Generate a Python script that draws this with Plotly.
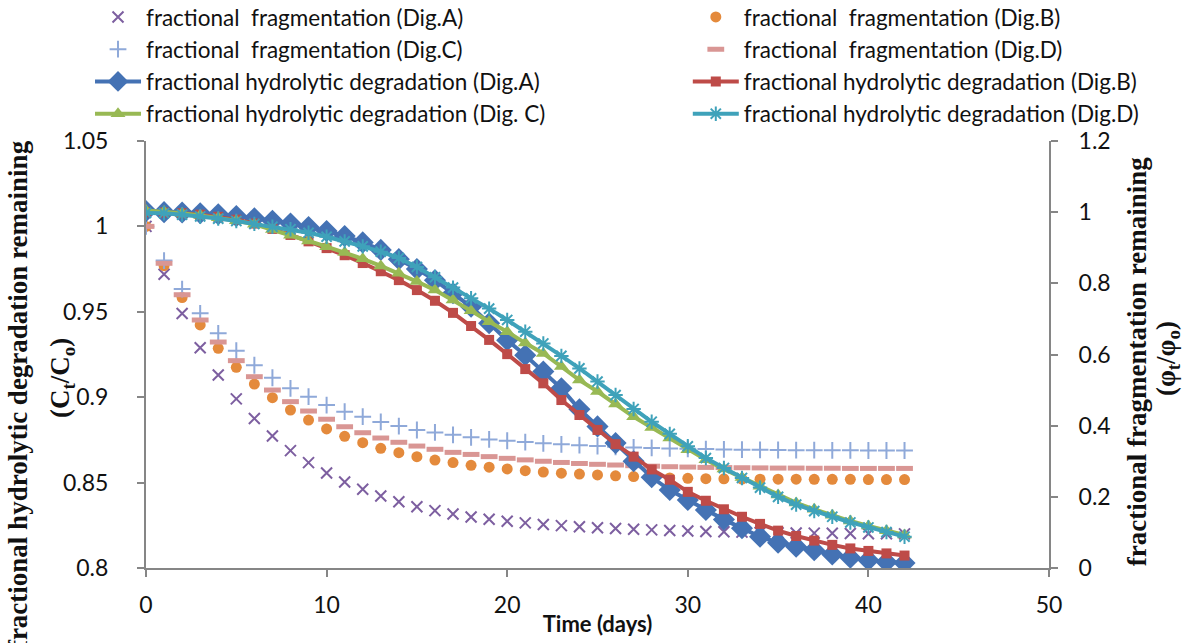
import plotly.graph_objects as go

days = list(range(43))

frag_A = [1.0, 0.972, 0.949, 0.929, 0.913, 0.899, 0.8875, 0.8773, 0.8687, 0.8617, 0.8556, 0.8504, 0.8461, 0.8422,
          0.8388, 0.8359, 0.8336, 0.8316, 0.8299, 0.8285, 0.8274, 0.8264, 0.8255, 0.8248, 0.8242, 0.8236, 0.8231,
          0.8227, 0.8223, 0.822, 0.8217, 0.8214, 0.8212, 0.821, 0.8208, 0.8206, 0.8205, 0.8204, 0.8203, 0.8202,
          0.8201, 0.8201, 0.82]
frag_B = [1.0, 0.977, 0.9583, 0.9423, 0.9286, 0.9175, 0.9077, 0.8997, 0.8925, 0.8866, 0.8814, 0.8771, 0.8734,
          0.8701, 0.8675, 0.8652, 0.8632, 0.8617, 0.8601, 0.859, 0.858, 0.857, 0.8562, 0.8555, 0.855, 0.8545,
          0.854, 0.8535, 0.853, 0.8527, 0.8525, 0.8523, 0.8522, 0.8521, 0.852, 0.852, 0.852, 0.8519, 0.8519,
          0.8519, 0.8518, 0.8518, 0.8518]
frag_C = [1.0, 0.98, 0.9633, 0.9491, 0.9374, 0.9272, 0.9187, 0.9114, 0.9052, 0.9003, 0.8954, 0.8915, 0.8886,
          0.8855, 0.8831, 0.8808, 0.8794, 0.878, 0.8765, 0.8753, 0.8745, 0.8737, 0.873, 0.8724, 0.8719, 0.8714,
          0.871, 0.8706, 0.8703, 0.87, 0.8698, 0.8696, 0.8694, 0.8693, 0.8692, 0.8691, 0.869, 0.869, 0.8689,
          0.8689, 0.8688, 0.8688, 0.8688]
frag_D = [1.0, 0.9784, 0.96, 0.9452, 0.9323, 0.9214, 0.912, 0.9042, 0.8974, 0.8919, 0.8871, 0.8827, 0.8792,
          0.8761, 0.8736, 0.8714, 0.8695, 0.8677, 0.8665, 0.8652, 0.8642, 0.8633, 0.8625, 0.8618, 0.8612, 0.8607,
          0.8603, 0.8599, 0.8596, 0.8593, 0.8591, 0.8589, 0.8588, 0.8587, 0.8586, 0.8585, 0.8585, 0.8584, 0.8584,
          0.8583, 0.8583, 0.8583, 0.8583]

deg_A = [1.003, 1.0, 0.999, 0.997, 0.994, 0.989, 0.983, 0.976, 0.968, 0.958, 0.947, 0.933, 0.915, 0.894, 0.868,
         0.840, 0.809, 0.772, 0.734, 0.688, 0.640, 0.598, 0.552, 0.505, 0.446, 0.398, 0.351, 0.300, 0.255, 0.219,
         0.191, 0.163, 0.136, 0.112, 0.088, 0.071, 0.060, 0.050, 0.038, 0.029, 0.022, 0.017, 0.014]
deg_B = [1.0, 0.999, 0.997, 0.993, 0.987, 0.979, 0.968, 0.953, 0.936, 0.918, 0.899, 0.879, 0.857, 0.834, 0.809,
         0.781, 0.751, 0.717, 0.680, 0.641, 0.601, 0.559, 0.519, 0.472, 0.430, 0.388, 0.348, 0.313, 0.277, 0.248,
         0.214, 0.189, 0.165, 0.144, 0.124, 0.105, 0.090, 0.077, 0.065, 0.055, 0.048, 0.041, 0.035]
deg_C = [1.005, 1.002, 0.997, 0.991, 0.984, 0.976, 0.966, 0.951, 0.935, 0.919, 0.903, 0.887, 0.869, 0.849, 0.828,
         0.805, 0.781, 0.753, 0.723, 0.692, 0.664, 0.632, 0.603, 0.566, 0.528, 0.496, 0.461, 0.425, 0.395, 0.365,
         0.332, 0.304, 0.278, 0.254, 0.230, 0.205, 0.183, 0.165, 0.148, 0.132, 0.118, 0.105, 0.093]
deg_D = [0.998, 0.997, 0.993, 0.988, 0.982, 0.975, 0.967, 0.959, 0.952, 0.942, 0.931, 0.918, 0.904, 0.889, 0.871,
         0.846, 0.817, 0.788, 0.758, 0.729, 0.697, 0.664, 0.631, 0.596, 0.561, 0.524, 0.486, 0.447, 0.411, 0.377,
         0.342, 0.309, 0.281, 0.253, 0.226, 0.200, 0.178, 0.160, 0.144, 0.128, 0.114, 0.101, 0.088]

names_frag = ["fractional  fragmentation (Dig.A)", "fractional  fragmentation (Dig.B)",
              "fractional  fragmentation (Dig.C)", "fractional  fragmentation (Dig.D)"]
names_deg = ["fractional hydrolytic degradation (Dig.A)", "fractional hydrolytic degradation (Dig.B)",
             "fractional hydrolytic degradation (Dig. C)", "fractional hydrolytic degradation (Dig.D)"]

left_ticks = [0.8, 0.85, 0.9, 0.95, 1.0, 1.05]
left_labels = ["0.8", "0.85", "0.9", "0.95", "1", "1.05"]
right_ticks = [0, 0.2, 0.4, 0.6, 0.8, 1.0, 1.2]
right_labels = ["0", "0.2", "0.4", "0.6", "0.8", "1", "1.2"]
x_ticks = [0, 10, 20, 30, 40, 50]

FONT = "Lato"
TXT = "#111111"
fig = go.Figure()

# fragmentation (markers only), left axis
fig.add_trace(go.Scatter(x=days, y=frag_A, mode="markers", name=names_frag[0], yaxis="y", legend="legend",
                         legendrank=1,
                         marker=dict(symbol="x-thin", size=11, color="#7D5FA0",
                                     line=dict(color="#7D5FA0", width=2))))
fig.add_trace(go.Scatter(x=days, y=frag_B, mode="markers", name=names_frag[1], yaxis="y", legend="legend2",
                         legendrank=1,
                         marker=dict(symbol="circle", size=11, color="#E48A3C")))
fig.add_trace(go.Scatter(x=days, y=frag_C, mode="markers", name=names_frag[2], yaxis="y", legend="legend",
                         legendrank=2,
                         marker=dict(symbol="cross-thin", size=12, color="#8FA9D9",
                                     line=dict(color="#8FA9D9", width=2))))
fig.add_trace(go.Scatter(x=days, y=frag_D, mode="markers", name=names_frag[3], yaxis="y", legend="legend2",
                         legendrank=2,
                         marker=dict(symbol="line-ew", size=12, color="#D99694",
                                     line=dict(color="#D99694", width=5))))

# degradation (lines + markers), right axis
fig.add_trace(go.Scatter(x=days, y=deg_A, mode="lines+markers", name=names_deg[0], yaxis="y2", legend="legend",
                         legendrank=3,
                         line=dict(color="#4472B4", width=4),
                         marker=dict(symbol="diamond", size=17, color="#4472B4")))
fig.add_trace(go.Scatter(x=days, y=deg_B, mode="lines+markers", name=names_deg[1], yaxis="y2", legend="legend2",
                         legendrank=3,
                         line=dict(color="#BE4B48", width=4),
                         marker=dict(symbol="square", size=10, color="#BE4B48")))
fig.add_trace(go.Scatter(x=days, y=deg_C, mode="lines+markers", name=names_deg[2], yaxis="y2", legend="legend",
                         legendrank=4,
                         line=dict(color="#98B954", width=4),
                         marker=dict(symbol="triangle-up", size=13, color="#98B954")))
fig.add_trace(go.Scatter(x=days, y=deg_D, mode="lines+markers", name=names_deg[3], yaxis="y2", legend="legend2",
                         legendrank=4,
                         line=dict(color="#3FA2BA", width=4),
                         marker=dict(symbol="asterisk-open", size=12, color="#3FA2BA",
                                     line=dict(color="#3FA2BA", width=2))))

axis_common = dict(showgrid=False, zeroline=False, showline=True, linecolor="#868686", linewidth=2,
                   ticks="outside", ticklen=7, tickcolor="#868686", tickwidth=2, automargin=False,
                   tickfont=dict(family=FONT, size=23, color=TXT))

legend_common = dict(orientation="v", yanchor="top", xanchor="left", itemwidth=46,
                     font=dict(family=FONT, size=22.5, color=TXT), bgcolor="rgba(0,0,0,0)",
                     traceorder="normal", tracegroupgap=0)

fig.update_layout(
    width=1185, height=643,
    margin=dict(l=146, r=136, t=141, b=75, autoexpand=False),
    paper_bgcolor="white", plot_bgcolor="white",
    font=dict(family=FONT, color=TXT),
    showlegend=True,
    legend=dict(x=-0.062, y=1.34, **legend_common),
    legend2=dict(x=0.600, y=1.34, **legend_common),
    xaxis=dict(range=[0, 50], tickvals=x_ticks, ticklabelstandoff=8,
               title=dict(text="<b>Time (days)</b>", font=dict(family=FONT, size=22, color=TXT),
                          standoff=0),
               **axis_common),
    yaxis=dict(range=[0.8, 1.05], tickvals=left_ticks, ticktext=left_labels, ticklabelstandoff=24,
               **axis_common),
    yaxis2=dict(range=[0, 1.2], tickvals=right_ticks, ticktext=right_labels, overlaying="y", side="right",
                ticklabelstandoff=16, **axis_common),
)

serif = dict(family="Liberation Serif", size=27, color=TXT)
ann = [
    dict(text="<b>fractional hydrolytic degradation remaining</b>", x=-0.1417, y=0.405),
    dict(text="<b>(C<sub>t</sub>/C<sub>o</sub>)</b>", x=-0.093, y=0.445),
    dict(text="<b>fractional fragmentation remaining</b>", x=1.0975, y=0.482),
    dict(text="<b>(φ<sub>t</sub>/φ<sub>o</sub>)</b>", x=1.131, y=0.49),
]
for a in ann:
    fig.add_annotation(text=a["text"], x=a["x"], y=a["y"], xref="paper", yref="paper",
                       textangle=-90, showarrow=False, xanchor="center", yanchor="middle", font=serif)

fig.write_html("out.html", config={"displayModeBar": False},
               post_script="document.body.style.margin='0';document.body.style.overflow='hidden';")
